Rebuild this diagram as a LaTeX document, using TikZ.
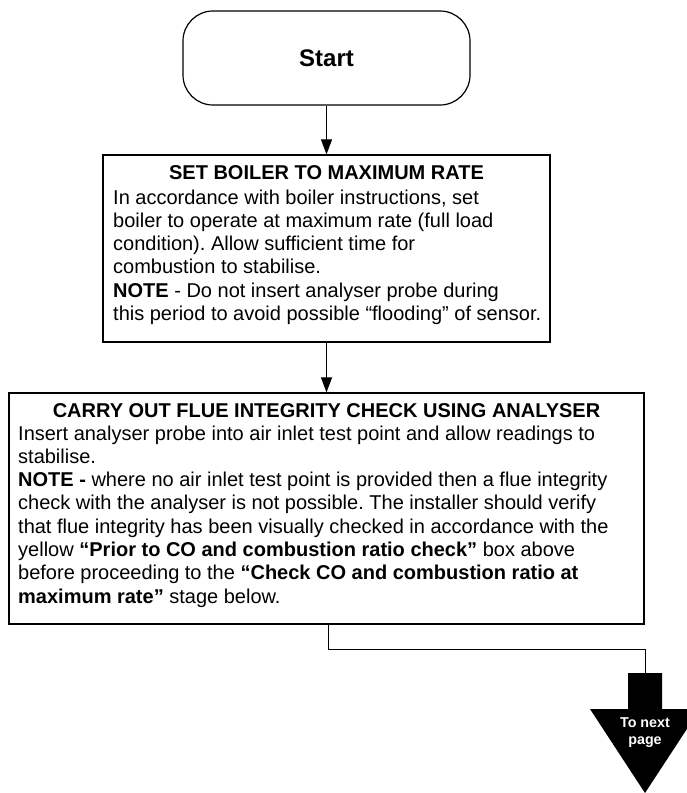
\documentclass[tikz,border=0pt]{standalone}
\usepackage{fontspec}
\setmainfont{Liberation Sans}
\usetikzlibrary{arrows.meta}
\frenchspacing
\begin{document}
\begin{tikzpicture}[x=1pt,y=-1pt,
  box/.style={draw, line width=1.2pt, inner sep=0pt},
  body/.style={inner sep=0pt, anchor=base west, align=left, font=\fontsize{20}{23.3}\selectfont},
  ttl/.style={inner sep=0pt, anchor=base, font=\fontsize{20}{23.3}\selectfont\bfseries},
  conn/.style={line width=1pt, -{Triangle[length=15pt,width=11pt]}},
  wire/.style={line width=1pt},
]
\useasboundingbox (0,0) rectangle (687,793);
\begin{scope}
\clip (0,0) rectangle (687,793);

\node[box, rounded corners=30pt, minimum width=287pt, minimum height=94pt,
      font=\fontsize{24}{28}\selectfont\bfseries] (start) at (326.5,58) {Start};

\node[box, minimum width=447pt, minimum height=187pt] (rate) at (326.5,248.5) {};
\node[ttl] (rateT) at (326.5,179) {SET BOILER TO MAXIMUM RATE};
% multi-line node: base anchor is the baseline of the last line
\node[body] (rateB) at (113,320.5) {In accordance with boiler instructions, set\\
boiler to operate at maximum rate (full load\\
condition). Allow sufficient time for\\
combustion to stabilise.\\
\textbf{NOTE} - Do not insert analyser probe during\\
this period to avoid possible “flooding” of sensor.};

\node[box, minimum width=635pt, minimum height=231pt] (flue) at (326.5,508.5) {};
\node[ttl] (flueT) at (326.5,417) {CARRY OUT FLUE INTEGRITY CHECK USING ANALYSER};
\node[body] (flueB) at (18,603.1) {Insert analyser probe into air inlet test point and allow readings to\\
stabilise.\\
\textbf{NOTE -} where no air inlet test point is provided then a flue integrity\\
check with the analyser is not possible. The installer should verify\\
that flue integrity has been visually checked in accordance with the\\
yellow \textbf{“Prior to CO and combustion ratio check”} box above\\
before proceeding to the \textbf{“Check CO and combustion ratio at}\\
\textbf{maximum rate”} stage below.};

\draw[conn] (start.south) -- (rate.north);
\draw[conn] (rate.south) -- (flue.north);

\coordinate (nextTop) at (645,673);
\draw[wire] ([xshift=2pt]flue.south) -- ++(0,25) -| (nextTop);

\fill[black] (628,673) -- (662,673) -- (662,709) -- (700,709) -- (645,793)
  -- (590,709) -- (628,709) -- cycle;
\node[font=\fontsize{14.3}{17.5}\selectfont\bfseries, text=white, align=center,
      inner sep=0pt, anchor=base] (nextT) at (645,744.5) {To next\\page};
\end{scope}
\end{tikzpicture}
\end{document}
